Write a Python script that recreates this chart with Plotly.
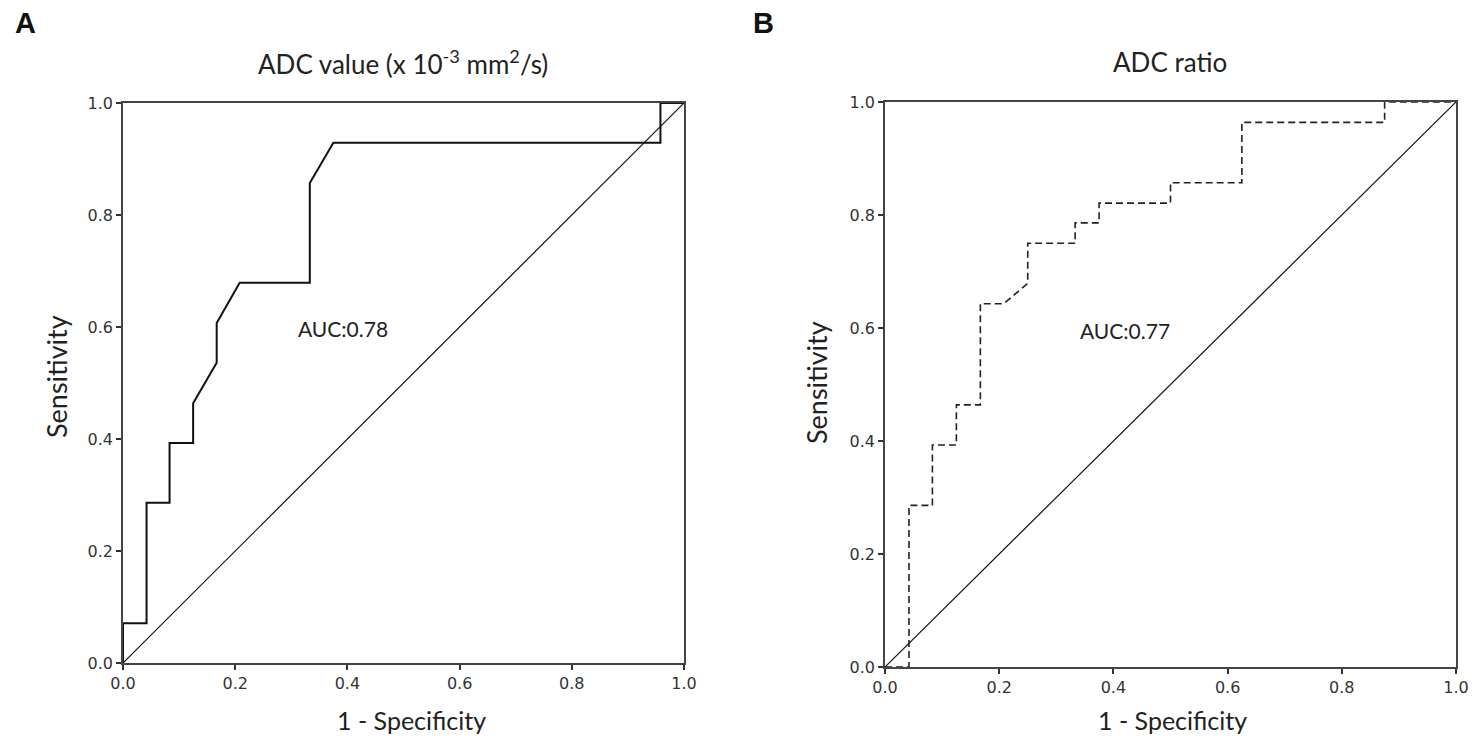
import plotly.graph_objects as go

# Panel A: ADC value ROC curve
fpr_a = [0, 0, 0.042, 0.042, 0.083, 0.083, 0.125, 0.125, 0.167, 0.167, 0.208, 0.333, 0.333, 0.375, 0.958, 0.958, 1.0]
tpr_a = [0, 0.071, 0.071, 0.286, 0.286, 0.393, 0.393, 0.464, 0.536, 0.607, 0.679, 0.679, 0.857, 0.929, 0.929, 1.0, 1.0]

# Panel B: ADC ratio ROC curve
fpr_b = [0, 0.042, 0.042, 0.083, 0.083, 0.125, 0.125, 0.167, 0.167, 0.208, 0.25, 0.25, 0.333, 0.333, 0.375, 0.375, 0.5, 0.5, 0.625, 0.625, 0.875, 0.875, 1.0]
tpr_b = [0, 0, 0.286, 0.286, 0.393, 0.393, 0.464, 0.464, 0.643, 0.643, 0.679, 0.75, 0.75, 0.786, 0.786, 0.821, 0.821, 0.857, 0.857, 0.964, 0.964, 1.0, 1.0]

ref_line = [0, 1]
tick_vals = [0, 0.2, 0.4, 0.6, 0.8, 1.0]
tick_text = ["0.0", "0.2", "0.4", "0.6", "0.8", "1.0"]

titles = ["ADC value (x 10<sup>-3</sup> mm<sup>2</sup>/s)", "ADC ratio"]
auc_labels = ["AUC:0.78", "AUC:0.77"]
panel_letters = ["A", "B"]

fig = go.Figure()

fig.add_trace(go.Scatter(x=fpr_a, y=tpr_a, mode="lines", xaxis="x", yaxis="y",
                         line=dict(color="#111", width=2), cliponaxis=False, showlegend=False))
fig.add_trace(go.Scatter(x=ref_line, y=ref_line, mode="lines", xaxis="x", yaxis="y",
                         line=dict(color="#111", width=1.2), cliponaxis=False, showlegend=False))
fig.add_trace(go.Scatter(x=fpr_b, y=tpr_b, mode="lines", xaxis="x2", yaxis="y2",
                         line=dict(color="#222", width=1.6, dash="7px,4px"), cliponaxis=False, showlegend=False))
fig.add_trace(go.Scatter(x=ref_line, y=ref_line, mode="lines", xaxis="x2", yaxis="y2",
                         line=dict(color="#111", width=1.2), cliponaxis=False, showlegend=False))

W, H = 1477, 744
dom_a_x = [123 / W, 684 / W]
dom_a_y = [(H - 663) / H, (H - 103) / H]
dom_b_x = [885 / W, 1456 / W]
dom_b_y = [(H - 667) / H, (H - 102) / H]

axis_common = dict(range=[0, 1], tickvals=tick_vals, ticktext=tick_text, ticks="outside",
                   ticklen=5, tickwidth=1.5, tickcolor="#333", showline=True, linecolor="#444",
                   linewidth=1.5, mirror=True, showgrid=False, zeroline=False,
                   tickfont=dict(family="DejaVu Sans", size=16, color="#333"), fixedrange=True)

fig.update_layout(
    width=W, height=H,
    margin=dict(l=0, r=0, t=0, b=0, autoexpand=False),
    paper_bgcolor="white", plot_bgcolor="white",
    xaxis=dict(domain=dom_a_x, anchor="y", **axis_common),
    yaxis=dict(domain=dom_a_y, anchor="x", **axis_common),
    xaxis2=dict(domain=dom_b_x, anchor="y2", **axis_common),
    yaxis2=dict(domain=dom_b_y, anchor="x2", **axis_common),
)

ann = []


def font(size):
    return dict(family="Lato", size=size, color="#222")


def pann(text, px, py, fnt, angle=0):
    return dict(text=text, x=px / W, y=(H - py) / H, xref="paper", yref="paper", textangle=angle,
                showarrow=False, font=fnt, xanchor="center", yanchor="middle")


ann.append(pann(titles[0], 403, 62, font(26)))
ann.append(pann(titles[1], 1170, 62, font(26)))
ann.append(pann("1 - Specificity", 411, 720, font(25)))
ann.append(pann("1 - Specificity", 1172, 720, font(25)))
ann.append(pann("Sensitivity", 56, 377, font(27), -90))
ann.append(pann("Sensitivity", 816, 383, font(27), -90))
ann.append(dict(text=auc_labels[0], x=0.392, y=0.598, xref="x", yref="y", showarrow=False,
                xanchor="center", yanchor="middle", font=font(21)))
ann.append(dict(text=auc_labels[1], x=0.42, y=0.596, xref="x2", yref="y2", showarrow=False,
                xanchor="center", yanchor="middle", font=font(21)))
ann.append(pann("<b>" + panel_letters[0] + "</b>", 25, 23, dict(family="Liberation Sans", size=29, color="#111")))
ann.append(pann("<b>" + panel_letters[1] + "</b>", 763, 23, dict(family="Liberation Sans", size=29, color="#111")))

fig.update_layout(annotations=ann)
fig.write_html("out.html", config={"displayModeBar": False})

# remove default page margin so the figure fills the window exactly
with open("out.html", "r", encoding="utf-8") as f:
    html = f.read()
html = html.replace("<head>", "<head><style>html,body{margin:0;padding:0;overflow:hidden;}</style>", 1)
with open("out.html", "w", encoding="utf-8") as f:
    f.write(html)
